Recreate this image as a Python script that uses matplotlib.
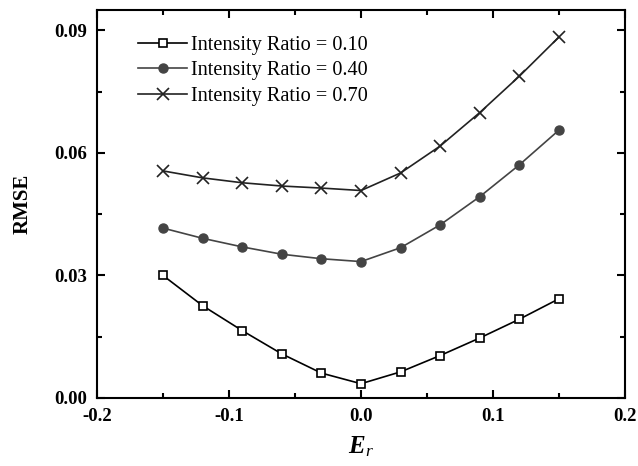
import matplotlib
matplotlib.use("Agg")
import matplotlib.pyplot as plt
from matplotlib.ticker import MultipleLocator, FuncFormatter

er = [-0.15, -0.12, -0.09, -0.06, -0.03, 0.0, 0.03, 0.06, 0.09, 0.12, 0.15]
rmse_010 = [0.0300, 0.0226, 0.0165, 0.0108, 0.0061, 0.0035, 0.0064, 0.0104, 0.0147, 0.0193, 0.0243]
rmse_040 = [0.0416, 0.0391, 0.0370, 0.0352, 0.0341, 0.0334, 0.0368, 0.0424, 0.0493, 0.0571, 0.0656]
rmse_070 = [0.0556, 0.0539, 0.0527, 0.0519, 0.0514, 0.0508, 0.0551, 0.0617, 0.0699, 0.0788, 0.0884]
labels = ["Intensity Ratio = 0.10", "Intensity Ratio = 0.40", "Intensity Ratio = 0.70"]

plt.rcParams['font.family'] = ['Liberation Serif', 'DejaVu Serif']
plt.rcParams['mathtext.fontset'] = 'custom'
plt.rcParams['mathtext.bfit'] = 'Liberation Serif:bold:italic'
plt.rcParams['mathtext.it'] = 'Liberation Serif:italic'
plt.rcParams['mathtext.bf'] = 'Liberation Serif:bold'

fig = plt.figure(figsize=(6.38, 4.66), dpi=100)
ax = fig.add_axes([97/638, 1-398/466, (625-97)/638, (398-10)/466])

ax.plot(er, rmse_010, color='black', lw=1.2, marker='s', ms=5.5, mfc='white', mec='black', mew=1.2, label=labels[0])
ax.plot(er, rmse_040, color='#444444', lw=1.2, marker='o', ms=6.5, mfc='#444444', mec='#444444', label=labels[1])
ax.plot(er, rmse_070, color='#222222', lw=1.2, marker='x', ms=8, mew=1.2, label=labels[2])

ax.set_xlim(-0.2, 0.2)
ax.set_ylim(0, 0.095)
ax.xaxis.set_major_locator(MultipleLocator(0.1))
ax.xaxis.set_minor_locator(MultipleLocator(0.05))
ax.yaxis.set_major_locator(MultipleLocator(0.03))
ax.yaxis.set_minor_locator(MultipleLocator(0.015))
ax.xaxis.set_major_formatter(FuncFormatter(lambda v, p: f"{v:.1f}"))
ax.yaxis.set_major_formatter(FuncFormatter(lambda v, p: f"{v:.2f}"))

ax.tick_params(which='both', direction='in', top=True, right=True, width=1.5)
ax.tick_params(which='major', length=6, labelsize=13.5, pad=7)
ax.tick_params(which='minor', length=3.5)
for lab in ax.get_xticklabels() + ax.get_yticklabels():
    lab.set_fontweight('bold')
for s in ax.spines.values():
    s.set_linewidth(1.5)

ax.set_ylabel('RMSE', fontsize=15, fontweight='bold', labelpad=16)
fig.text(361/638, 1-447/466, r'$\mathbfit{E}_{\mathit{r}}$', fontsize=18, ha='center', va='center')

leg = ax.legend(loc='upper left', bbox_to_anchor=(0.063, 0.955), frameon=False, fontsize=14.6,
                handlelength=2.4, handletextpad=0.2, labelspacing=0.32, borderaxespad=0)

fig.savefig('out.png', dpi=100)
